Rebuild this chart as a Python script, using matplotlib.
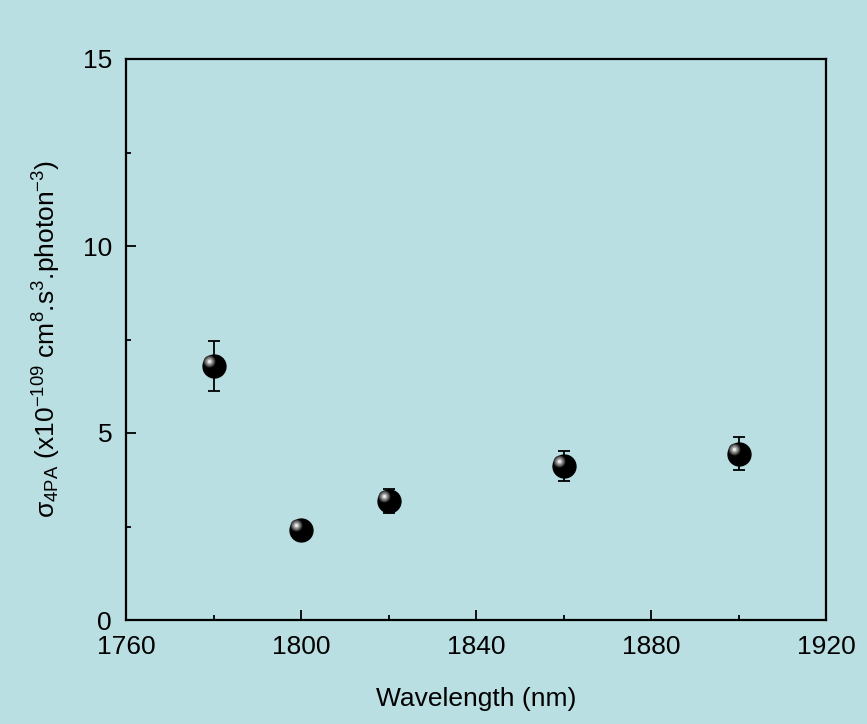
import matplotlib
matplotlib.use("Agg")
import matplotlib.pyplot as plt
import matplotlib.transforms as mtransforms
from matplotlib.ticker import MultipleLocator

wavelength = [1780, 1800, 1820, 1860, 1900]
sigma = [6.8, 2.4, 3.18, 4.12, 4.45]
sigma_err = [0.67, 0.08, 0.32, 0.40, 0.44]

bg = "#b9dfe2"
plt.rcParams["font.family"] = ["Liberation Sans", "DejaVu Sans"]
plt.rcParams["mathtext.fontset"] = "custom"
plt.rcParams["mathtext.rm"] = "Liberation Sans"
plt.rcParams["mathtext.it"] = "Liberation Sans:italic"
plt.rcParams["mathtext.sf"] = "Liberation Sans"

fig = plt.figure(figsize=(8.67, 7.24), dpi=100, facecolor=bg)
ax = fig.add_axes([126 / 867, 1 - 620 / 724, 700 / 867, 561 / 724])
ax.set_facecolor(bg)

ax.errorbar(wavelength, sigma, yerr=sigma_err, fmt="none", ecolor="black",
            elinewidth=1.3, capsize=4.5, capthick=1.3, zorder=2)
ax.plot(wavelength, sigma, "o", ms=16.5, color="black", mec="black", zorder=3)

# shiny highlight on the spheres
shift = mtransforms.ScaledTranslation(-3.5 / 72, 3.5 / 72, fig.dpi_scale_trans)
for size, shade in [(8.5, "#3a3a3a"), (6.5, "#707070"), (4.5, "#a8a8a8"), (2.4, "#e8e8e8")]:
    ax.plot(wavelength, sigma, "o", ms=size, color=shade, mec="none",
            transform=ax.transData + shift, zorder=4)

ax.set_xlim(1760, 1920)
ax.set_ylim(0, 15)
ax.xaxis.set_major_locator(MultipleLocator(40))
ax.xaxis.set_minor_locator(MultipleLocator(20))
ax.yaxis.set_major_locator(MultipleLocator(5))
ax.yaxis.set_minor_locator(MultipleLocator(2.5))
ax.tick_params(which="both", direction="in", width=1.3, labelsize=19)
ax.tick_params(which="major", length=7)
ax.tick_params(axis="x", which="major", pad=11)
ax.tick_params(axis="y", which="major", pad=10)
ax.tick_params(which="minor", length=3.5)
for s in ax.spines.values():
    s.set_linewidth(1.6)

ax.set_xlabel("Wavelength (nm)", fontsize=19, labelpad=20)
ax.set_ylabel(r"σ$_{\rm 4PA}$ (x10$^{-109}$ cm$^{8}$.s$^{3}$.photon$^{-3}$)",
              fontsize=19, labelpad=14)

fig.savefig("out.png", dpi=100, facecolor=bg)
